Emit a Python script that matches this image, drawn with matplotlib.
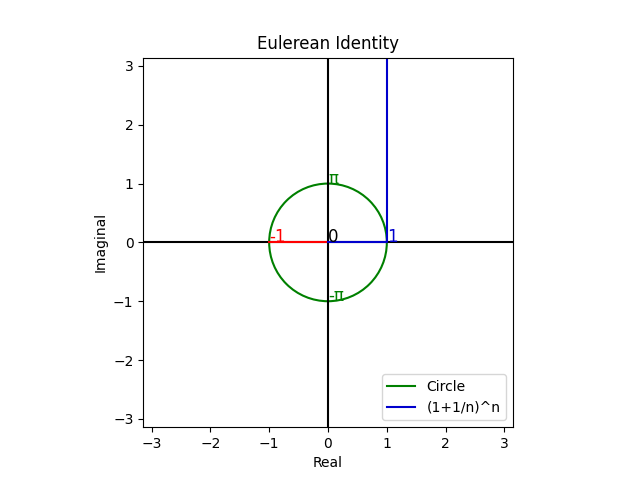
import numpy as np
import matplotlib
matplotlib.use('Agg')
import matplotlib.pyplot as plt
from matplotlib.patches import Circle
from matplotlib.lines import Line2D

# data
circle_radius = 1.0
limit = np.pi
blue_x = [0, 1, 1]
blue_y = [0, 0, 4]
red_x = [-1, 0]
red_y = [0, 0]
point_labels = ['0', '1', '-1', 'π', '-π']
point_x = [0, 1, -1, 0, 0]
point_y = [0, 0, 0, 1, -1]
point_colors = ['black', 'mediumblue', 'red', 'green', 'green']

fig, ax = plt.subplots(figsize=(6.4, 4.8), dpi=100)

ax.axhline(0, color='black')
ax.axvline(0, color='black')

ax.add_patch(Circle((0, 0), circle_radius, fill=False, edgecolor='green', linewidth=1.5))
ax.plot(red_x, red_y, color='red')
ax.plot(blue_x, blue_y, color='mediumblue')

for lbl, x, y, c in zip(point_labels, point_x, point_y, point_colors):
    ax.text(x, y, lbl, color=c, fontsize=12)

ax.set_xlim(-limit, limit)
ax.set_ylim(-limit, limit)
ax.set_aspect('equal')
ax.set_title('Eulerean Identity')
ax.set_xlabel('Real')
ax.set_ylabel('Imaginal')

handles = [Line2D([], [], color='green'), Line2D([], [], color='mediumblue')]
ax.legend(handles, ['Circle', '(1+1/n)^n'], loc='lower right')

plt.savefig('out.png')
